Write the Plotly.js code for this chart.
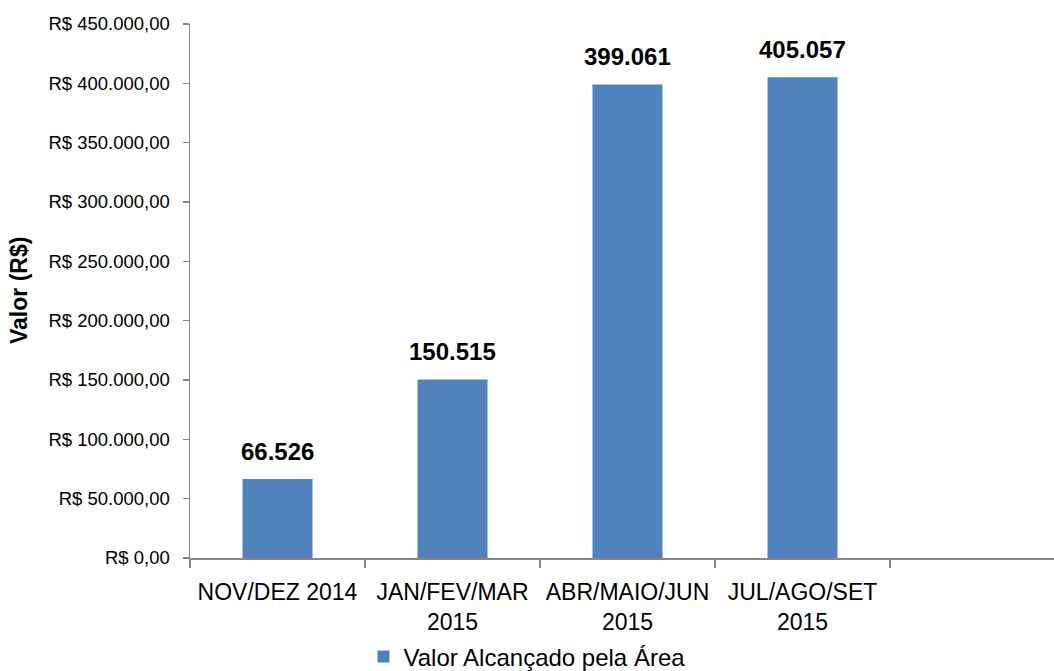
<!DOCTYPE html>
<html>
<head>
<meta charset="utf-8">
<script src="https://cdn.plot.ly/plotly-3.0.1.min.js"></script>
<style>html,body{margin:0;padding:0;background:#fff;}#chart{width:1054px;height:671px;}</style>
</head>
<body>
<div id="chart"></div>
<script>
const categories = ["NOV/DEZ 2014", "JAN/FEV/MAR<br>2015", "ABR/MAIO/JUN<br>2015", "JUL/AGO/SET<br>2015", " "];
const values = [66526, 150515, 399061, 405057, null];
const seriesName = "Valor Alcançado pela Área";
const yTitle = "Valor (R$)";
const yTickVals = [0, 50000, 100000, 150000, 200000, 250000, 300000, 350000, 400000, 450000];
const yTickLabels = ["R$ 0,00", "R$ 50.000,00", "R$ 100.000,00", "R$ 150.000,00", "R$ 200.000,00",
                     "R$ 250.000,00", "R$ 300.000,00", "R$ 350.000,00", "R$ 400.000,00", "R$ 450.000,00"];

function fmt(v) {
  return String(v).replace(/\B(?=(\d{3})+(?!\d))/g, ".");
}

const FONT = "Liberation Sans, Arial, sans-serif";

const trace = {
  type: "bar",
  x: categories,
  y: values,
  name: seriesName,
  width: 0.4,
  marker: { color: "#4F81BD" },
  showlegend: true,
  hoverinfo: "skip"
};

const annotations = [];
categories.forEach((c, i) => {
  if (values[i] == null) return;
  annotations.push({
    x: c, y: values[i], xref: "x", yref: "y",
    text: "<b>" + fmt(values[i]) + "</b>",
    showarrow: false, yanchor: "bottom", xanchor: "center", yshift: 12,
    font: { family: FONT, size: 24, color: "#000" }
  });
});
annotations.push({
  xref: "paper", yref: "paper", x: 0, y: 0.5, xanchor: "center", yanchor: "middle",
  xshift: -171, textangle: -90, showarrow: false,
  text: "<b>" + yTitle + "</b>",
  font: { family: FONT, size: 23, color: "#000" }
});

const layout = {
  width: 1054, height: 671,
  margin: { l: 190, r: 0, t: 24, b: 113, pad: 0 },
  paper_bgcolor: "#fff", plot_bgcolor: "#fff",
  font: { family: FONT, color: "#000" },
  xaxis: {
    type: "category",
    categoryorder: "array", categoryarray: categories,
    range: [-0.5, 4.437],
    tickson: "boundaries",
    ticks: "outside", ticklen: 8, tickwidth: 1.5, tickcolor: "#868686",
    showline: true, linecolor: "#868686", linewidth: 1.5,
    showgrid: false, zeroline: false,
    tickfont: { family: FONT, size: 23, color: "#000" },
    ticklabelstandoff: 13,
    fixedrange: true
  },
  yaxis: {
    range: [0, 450000],
    tickmode: "array", tickvals: yTickVals, ticktext: yTickLabels,
    ticks: "outside", ticklen: 6, tickwidth: 1.5, tickcolor: "#868686",
    showline: true, linecolor: "#868686", linewidth: 1.5,
    showgrid: false, zeroline: false,
    tickfont: { family: FONT, size: 18.5, color: "#000" },
    ticklabelstandoff: 9,
    fixedrange: true
  },
  legend: {
    orientation: "h", xref: "container", yref: "container",
    x: 0.5, xanchor: "center", y: 0.021, yanchor: "middle",
    font: { family: FONT, size: 24, color: "#000" },
    bgcolor: "rgba(0,0,0,0)", itemwidth: 30
  },
  annotations: annotations
};

Plotly.newPlot("chart", [trace], layout, { displayModeBar: false, staticPlot: true });
</script>
</body>
</html>
